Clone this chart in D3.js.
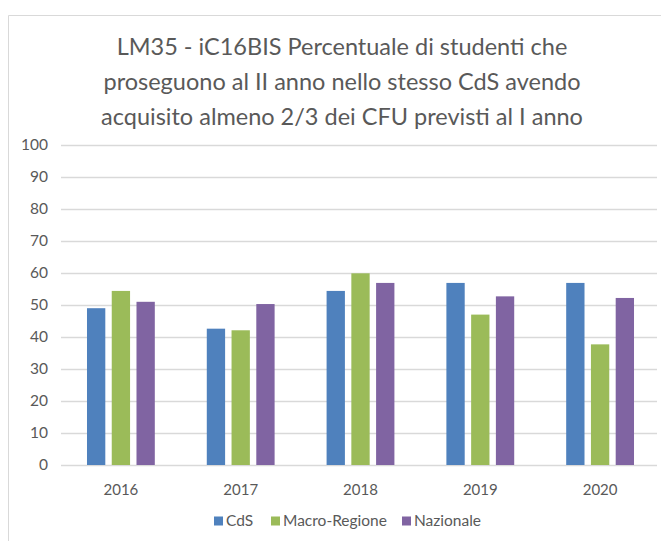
<!DOCTYPE html>
<html>
<head>
<meta charset="utf-8">
<script src="https://cdn.jsdelivr.net/npm/d3@7"></script>
<style>
  body { margin: 0; background: #fff; }
  text { font-family: Lato, "Open Sans", sans-serif; fill: #595959; }
</style>
</head>
<body>
<div id="chart"></div>
<script>
const years = ['2016', '2017', '2018', '2019', '2020'];
const seriesNames = ['CdS', 'Macro-Regione', 'Nazionale'];
const cds = [49.0, 42.6, 54.4, 56.9, 56.9];
const macroRegione = [54.4, 42.1, 59.9, 47.0, 37.7];
const nazionale = [51.0, 50.3, 56.9, 52.7, 52.2];
const yTicks = [0, 10, 20, 30, 40, 50, 60, 70, 80, 90, 100];
const colors = ['#4f81bd', '#9bbb59', '#8064a2'];
const titleLines = [
  'LM35 - iC16BIS Percentuale di studenti che',
  'proseguono al II anno nello stesso CdS avendo',
  'acquisito almeno 2/3 dei CFU previsti al I anno'
];

const width = 661, height = 541;
const margin = { left: 61, right: 1, top: 145, bottom: 76 };

const svg = d3.select('#chart').append('svg')
  .attr('width', width)
  .attr('height', height);

// outer chart frame (only left and top edges are visible in the crop)
svg.append('path')
  .attr('d', `M8.5,${height} L8.5,15.5 L${width},15.5`)
  .attr('fill', 'none')
  .attr('stroke', '#d9d9d9');

// title
svg.append('text')
  .attr('text-anchor', 'middle')
  .attr('font-size', 23.5)
  .selectAll('tspan')
  .data(titleLines)
  .enter().append('tspan')
  .attr('x', 342)
  .attr('y', (d, i) => 55 + i * 35)
  .text(d => d);

const x = d3.scaleBand()
  .domain(years)
  .range([margin.left, width - margin.right]);

const y = d3.scaleLinear()
  .domain([0, 100])
  .range([height - margin.bottom, margin.top]);

const inner = d3.scaleBand()
  .domain(seriesNames)
  .range([0, x.bandwidth()])
  .paddingInner(0.26)
  .paddingOuter(1.05);

// gridlines
svg.append('g')
  .selectAll('line')
  .data(yTicks)
  .enter().append('line')
  .attr('x1', margin.left)
  .attr('x2', width - margin.right - 3)
  .attr('y1', d => Math.round(y(d)) + 0.5)
  .attr('y2', d => Math.round(y(d)) + 0.5)
  .attr('stroke', '#d9d9d9')
  .attr('stroke-width', 1.5);

// y tick labels
svg.append('g')
  .selectAll('text')
  .data(yTicks)
  .enter().append('text')
  .attr('x', 48)
  .attr('y', d => y(d))
  .attr('dy', '0.35em')
  .attr('text-anchor', 'end')
  .attr('font-size', 15.5)
  .text(d => d);

const table = years.map((yr, i) => ({
  year: yr,
  values: [cds[i], macroRegione[i], nazionale[i]]
}));

// bars
const groups = svg.append('g')
  .selectAll('g')
  .data(table)
  .enter().append('g')
  .attr('transform', d => `translate(${x(d.year)},0)`);

groups.selectAll('rect')
  .data(d => d.values.map((v, j) => ({ name: seriesNames[j], value: v, j })))
  .enter().append('rect')
  .attr('x', d => inner(d.name))
  .attr('width', inner.bandwidth())
  .attr('y', d => y(d.value))
  .attr('height', d => y(0) - y(d.value))
  .attr('fill', d => colors[d.j]);

// x labels
svg.append('g')
  .selectAll('text')
  .data(years)
  .enter().append('text')
  .attr('x', d => x(d) + x.bandwidth() / 2)
  .attr('y', 495)
  .attr('text-anchor', 'middle')
  .attr('font-size', 15)
  .text(d => d);

// legend
const legendX = [214, 271, 402];
const legend = svg.append('g')
  .selectAll('g')
  .data(seriesNames)
  .enter().append('g')
  .attr('transform', (d, i) => `translate(${legendX[i]},521)`);

legend.append('rect')
  .attr('x', 0)
  .attr('y', -4.5)
  .attr('width', 9)
  .attr('height', 9)
  .attr('fill', (d, i) => colors[i]);

legend.append('text')
  .attr('x', 12)
  .attr('dy', '0.35em')
  .attr('font-size', 15.5)
  .text(d => d);
</script>
</body>
</html>
